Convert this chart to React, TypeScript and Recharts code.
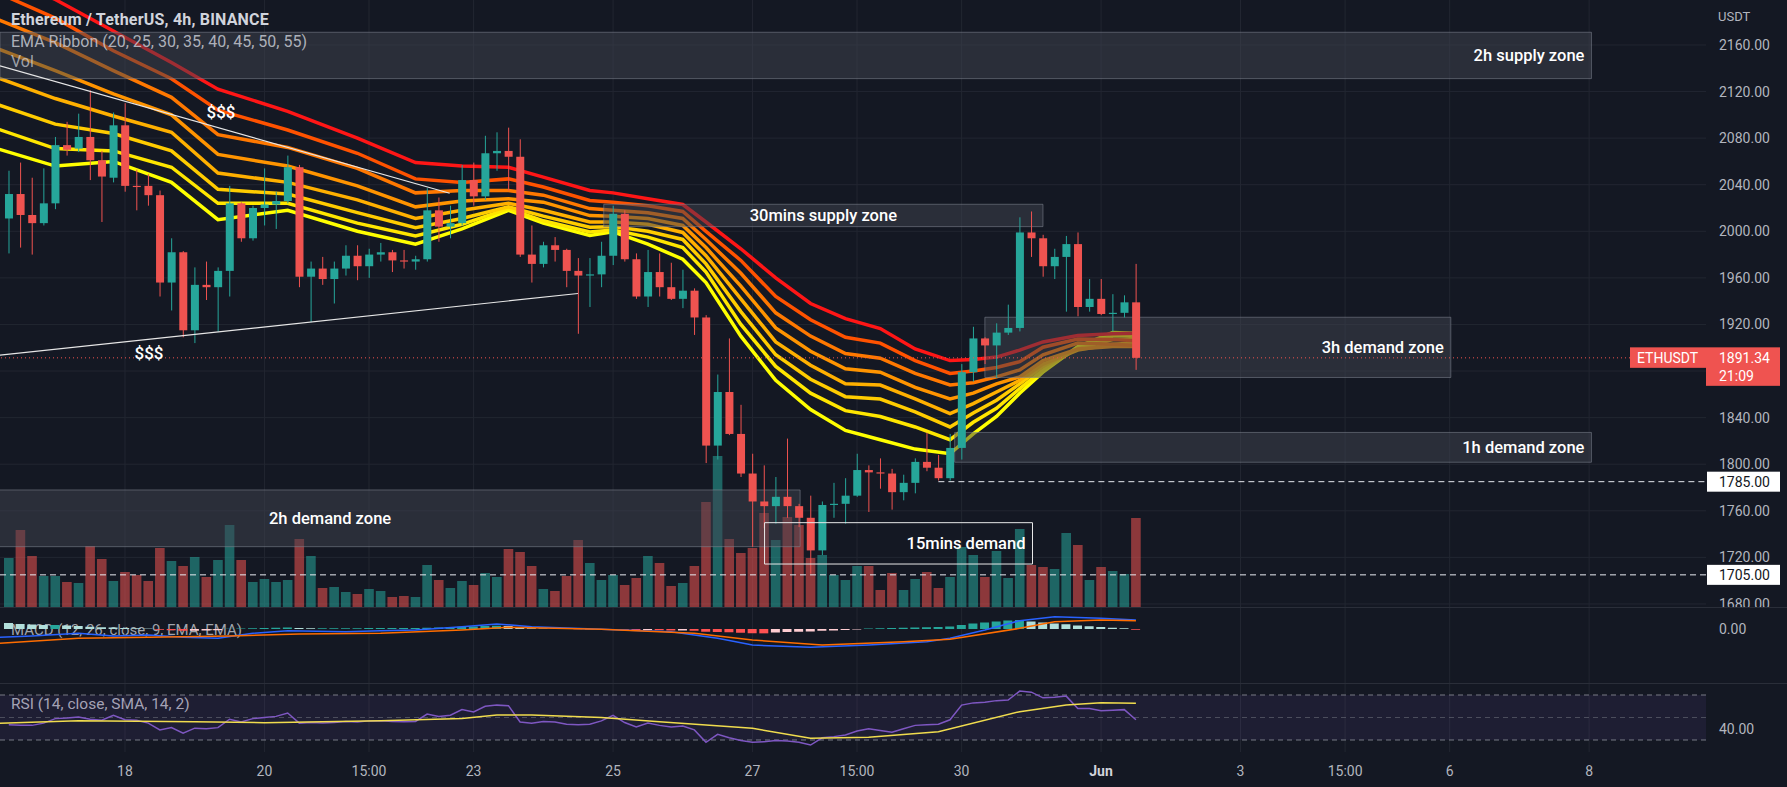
import React from 'react';
import {
  ComposedChart, Bar, Line, XAxis, YAxis, CartesianGrid,
  ReferenceLine, ReferenceArea, ReferenceDot, Cell,
} from 'recharts';

// ETHUSDT 4h, Binance. Candle index 0 = May 18 03:00, one step = 4h.
const FIRST_CANDLE = -10;

const OPEN = [
  2011, 2032, 2014, 2007, 2024, 2074, 2071, 2081, 2061, 2046,
  2091, 2039, 2039, 2031, 1956, 1982, 1915, 1954, 1952, 1966,
  2024, 1994, 2020, 2023, 2026, 2055, 1961, 1968, 1959, 1968,
  1979, 1970, 1980, 1982, 1975, 1974, 1976, 2018, 2004, 2007,
  2044, 2030, 2067, 2069, 2064, 1980, 1972, 1988, 1984, 1966,
  1962, 1963, 1979, 2015, 1976, 1944, 1965, 1952, 1942, 1949,
  1926, 1816, 1862, 1826, 1792, 1768, 1764, 1772, 1764, 1754,
  1726, 1765, 1766, 1773, 1795, 1793, 1792, 1776, 1784, 1802,
  1797, 1788, 1814, 1879, 1908, 1902, 1913, 1917, 1999, 1994,
  1970, 1978, 1989, 1935, 1942, 1929, 1930, 1939,
];
const HIGH = [
  2052, 2059, 2046, 2054, 2081, 2094, 2101, 2121, 2069, 2102,
  2110, 2053, 2049, 2035, 1994, 1983, 1969, 1974, 1969, 2039,
  2025, 2022, 2054, 2034, 2065, 2057, 1974, 1978, 1974, 1988,
  1988, 1985, 1990, 1984, 1984, 1979, 2037, 2029, 2022, 2057,
  2059, 2082, 2085, 2089, 2079, 2005, 1991, 1995, 1985, 1977,
  1977, 1991, 2022, 2018, 1981, 1984, 1981, 1973, 1967, 1951,
  1928, 1877, 1908, 1851, 1809, 1799, 1789, 1822, 1766, 1773,
  1768, 1784, 1788, 1809, 1799, 1805, 1796, 1791, 1805, 1827,
  1808, 1826, 1886, 1918, 1909, 1921, 1937, 2012, 2017, 1997,
  1985, 1996, 1999, 1959, 1959, 1946, 1945, 1972,
];
const LOW = [
  1981, 1986, 1980, 2005, 2019, 2065, 2068, 2044, 2008, 2042,
  2034, 2018, 2022, 1944, 1932, 1909, 1904, 1941, 1914, 1944,
  1991, 1992, 2005, 2002, 2024, 1952, 1922, 1954, 1938, 1962,
  1958, 1960, 1974, 1965, 1968, 1967, 1974, 1991, 1994, 2005,
  2022, 2027, 2052, 2035, 1978, 1956, 1969, 1974, 1952, 1912,
  1935, 1952, 1971, 1974, 1942, 1935, 1944, 1941, 1934, 1911,
  1801, 1804, 1825, 1789, 1729, 1745, 1749, 1754, 1746, 1706,
  1722, 1754, 1749, 1772, 1759, 1779, 1761, 1769, 1775, 1794,
  1786, 1786, 1804, 1871, 1886, 1874, 1911, 1914, 1978, 1961,
  1959, 1931, 1927, 1931, 1928, 1914, 1926, 1881,
];
const CLOSE = [
  2032, 2014, 2007, 2024, 2074, 2070, 2081, 2061, 2047, 2091,
  2039, 2038, 2031, 1956, 1982, 1915, 1954, 1952, 1966, 2024,
  1994, 2020, 2023, 2026, 2055, 1961, 1968, 1959, 1968, 1979,
  1970, 1980, 1982, 1975, 1974, 1976, 2018, 2004, 2007, 2044,
  2030, 2067, 2069, 2064, 1980, 1972, 1988, 1984, 1966, 1962,
  1963, 1979, 2015, 1976, 1944, 1965, 1952, 1942, 1949, 1926,
  1816, 1862, 1826, 1792, 1768, 1764, 1772, 1764, 1754, 1726,
  1765, 1766, 1773, 1795, 1793, 1792, 1776, 1784, 1802, 1797,
  1788, 1814, 1879, 1908, 1902, 1913, 1917, 1999, 1994, 1970,
  1978, 1989, 1935, 1942, 1929, 1930, 1939, 1891.34,
];
// volume, thousands of ETH (approx.)
const VOLUME = [
  49, 77, 51, 31, 31, 25, 24, 61, 48, 26,
  35, 32, 26, 59, 46, 41, 50, 30, 47, 82,
  47, 25, 28, 25, 27, 68, 51, 19, 20, 15,
  13, 18, 16, 10, 11, 10, 42, 27, 19, 26,
  22, 34, 30, 58, 55, 41, 18, 16, 31, 67,
  44, 27, 32, 22, 29, 51, 44, 21, 24, 41,
  105, 151, 68, 54, 59, 94, 67, 90, 82, 49,
  52, 32, 27, 41, 41, 17, 34, 17, 28, 35,
  19, 30, 60, 52, 30, 56, 29, 78, 42, 40,
  38, 74, 62, 27, 40, 36, 33, 89,
];
const RSI = [
  43.5, 43, 43, 45, 49, 49.5, 50.5, 48.5, 47.5, 52,
  48, 47.5, 45, 39, 41, 36, 40.5, 40, 41, 48.5,
  46, 49, 50, 51, 54, 45, 45.5, 45, 45.5, 46.5,
  46, 47, 47, 46.5, 46.3, 46.5, 53, 51, 52, 57,
  55, 60, 61, 60.5, 46, 45, 46.5, 46, 44, 43.5,
  44, 47, 52, 45.5, 41.5, 45, 43, 41.5, 42.5, 39,
  28, 35, 32, 29.5, 28, 28.5, 29.5, 29, 28, 25.5,
  32, 33, 34.5, 38, 40, 38.5, 37, 40, 43, 43.5,
  44, 48, 61, 63, 63.5, 65, 65.5, 73.5, 72.5, 67.5,
  68, 69, 58, 58, 56, 56.5, 57, 48,
];
const MACD_HIST = [
  12, 10, 9, 8, 8, 7, 6, 4.5, 3.5, 3,
  2, 1.5, 0.8, -1.5, -2.5, -3.5, -3.5, -3, -2.5, 0.5,
  1, 1.5, 2, 2.5, 3, 2, 1.5, 1.5, 1.5, 1.5,
  1.5, 2, 2, 2, 2, 2, 2.5, 3, 3.5, 4.5,
  5, 6, 6.5, 6, 3, 1.5, 1, 0.5, 0.3, -0.5,
  -1, -1.5, -1, -1.5, -2, -2, -2.5, -3, -3, -3.5,
  -5.5, -6, -6.5, -7.5, -8.5, -8.7, -7, -6, -5.5, -5,
  -3.5, -3, -2, -1, 1, 1.5, 2, 2.5, 3, 3.5,
  4, 5, 8, 11, 13, 15, 17, 18, 15, 13,
  11, 9.5, 7, 5.5, 4, 2.5, 1.5, -1.5,
];

// EMA ribbon (20..55), read at these candle indices
const RIBBON_AT = [-11, -6, -1, 4, 8, 14, 20, 25, 29, 33, 36, 40, 42, 45, 48, 50, 53, 56, 59, 62, 65, 68, 71, 73, 75, 77, 79, 82, 85, 87];
const EMA20 = [2071, 2056, 2060, 2042, 2010, 2018, 2000, 1989, 2002, 2018, 2007, 1996.5, 1999.5, 1989, 1976, 1956, 1910, 1872, 1847, 1829, 1821, 1813, 1809, 1826, 1841, 1861, 1879, 1901, 1913, 1912.5];
const EMA25 = [2088, 2071, 2069, 2055, 2024, 2024, 2007, 1996, 2006, 2019.5, 2009, 1999.5, 2001, 1995, 1986, 1965, 1920, 1884, 1861, 1846, 1841, 1832, 1821, 1836, 1848, 1865, 1881, 1900, 1910, 1911];
const EMA30 = [2109, 2092, 2084, 2069, 2036, 2032, 2016, 2003, 2011, 2021, 2013, 2003.5, 2004, 2000, 1993, 1972, 1931, 1894, 1873, 1858, 1856, 1845, 1832, 1844, 1855, 1869, 1884, 1899, 1907, 1908];
const EMA35 = [2132, 2114, 2099, 2085, 2050, 2042, 2027, 2011, 2018, 2024, 2018, 2008, 2008, 2006, 1999, 1979, 1942, 1905, 1885, 1869, 1868, 1856, 1843.5, 1852, 1862, 1872, 1886, 1898, 1903, 1904];
const EMA40 = [2157, 2138, 2118, 2100, 2066, 2056, 2039, 2021, 2026, 2028, 2025, 2013.5, 2013, 2011, 2005, 1986, 1953, 1917, 1897, 1882, 1879, 1866, 1856, 1861, 1869, 1875, 1889, 1899, 1901, 1901];
const EMA45 = [2182, 2162, 2138, 2115, 2083, 2072, 2054, 2033, 2035, 2035, 2031, 2019.5, 2018, 2016, 2011, 1993, 1964, 1930, 1910, 1895, 1891, 1878, 1868, 1870, 1875, 1881, 1894, 1904, 1903, 1902];
const EMA50 = [2205, 2183, 2155, 2131, 2104, 2087, 2067, 2045, 2042, 2045, 2038, 2026.5, 2025, 2022, 2017, 2000, 1975, 1944, 1924, 1909, 1904, 1889, 1878, 1880, 1883, 1888, 1900.5, 1907.5, 1907, 1906];
const EMA55 = [2222, 2199, 2172, 2145, 2122, 2103, 2080, 2059, 2056, 2055, 2046.5, 2035, 2033, 2028, 2023, 2008, 1985, 1960, 1938, 1925, 1916.5, 1899, 1889, 1890, 1892, 1898, 1905, 1910.5, 1912, 1912.5];
const RIBBON = [EMA20, EMA25, EMA30, EMA35, EMA40, EMA45, EMA50, EMA55];
const RIBBON_KEYS = ['ema20', 'ema25', 'ema30', 'ema35', 'ema40', 'ema45', 'ema50', 'ema55'];
const RIBBON_COLORS = ['#ffff00', '#ffe600', '#ffcc00', '#ffb000', '#ff9400', '#ff7800', '#ff5200', '#ff1616'];

const MACD_AT = [-11, -8, -4, -1, 2, 5, 8, 11, 14, 19, 22, 25, 29, 32, 35, 41, 47, 51, 54, 59, 64, 69, 71, 74, 77, 80, 84, 87];
const MACD_LINE = [-16.7, -14, -8.7, -14, -12, -16.7, -18.7, -8.7, -3.3, -5.3, -3.3, -2, 4.7, 10, 4.7, -0.7, -5.3, -18.7, -32, -36.7, -32, -25.3, -18.7, -2, 16.7, 24.7, 21.3, 18];
const SIGNAL_AT = [-11, -4, 2, 9, 15, 22, 29, 33, 41, 49, 54, 60, 67, 71, 77, 80, 84, 87];
const SIGNAL_LINE = [-28.7, -18.7, -16.7, -14, -10, -8.7, -2, 3.3, -0.7, -8.7, -22, -32, -25.3, -20.7, 1.3, 14.7, 18, 16.7];
const RSI_MA_AT = [-11, -4, 6, 12, 22, 29, 32, 35, 41, 46, 54, 59, 64, 70, 77, 81, 84, 87];
const RSI_MA = [44.8, 47.2, 46.3, 45.4, 47.2, 49.2, 52.2, 52.2, 50.1, 46.3, 40.4, 31.5, 32.4, 37.4, 55.2, 61.1, 63.2, 62.6];

const TIME_TICKS = [0, 12, 21, 30, 42, 54, 63, 72, 84, 96, 105, 114, 126];
const TIME_LABELS = ['18', '20', '15:00', '23', '25', '27', '15:00', '30', 'Jun', '3', '15:00', '6', '8'];
const PRICE_TICKS = [1680, 1720, 1760, 1800, 1840, 1920, 1960, 2000, 2040, 2080, 2120, 2160];
const PRICE_GRID = [1680, 1720, 1760, 1800, 1840, 1880, 1920, 1960, 2000, 2040, 2080, 2120, 2160];

const LAST_PRICE = 1891.34;
const LAST_TIME = '21:09';

// drawings on the chart (candle index / price)
const ZONES = [
  { text: '2h supply zone', x1: -10.76, x2: 126.2, y1: 2131.1, y2: 2170.9, align: 'right' },
  { text: '30mins supply zone', x1: 41.2, x2: 79.0, y1: 2004, y2: 2023.2, align: 'center' },
  { text: '3h demand zone', x1: 74.0, x2: 114.1, y1: 1874.5, y2: 1926.2, align: 'right' },
  { text: '1h demand zone', x1: 71.4, x2: 126.2, y1: 1801.7, y2: 1827.3, align: 'right' },
  { text: '2h demand zone', x1: -22.8, x2: 58.1, y1: 1729.2, y2: 1777.9, align: 'center' },
];
const DEMAND_15M = { text: '15mins demand', x1: 55.04, x2: 78.1, y1: 1714.3, y2: 1749.8 };
const TRENDLINES = [
  [{ x: -10.76, y: 2142 }, { x: 27.94, y: 2032.7 }],
  [{ x: -10.76, y: 1893.6 }, { x: 38.98, y: 1946.6 }],
];
const MONEY_MARKS = [{ x: 8.26, y: 2102.7 }, { x: 2.07, y: 1895.5 }];
const LEVEL_1785 = { from: 70, price: 1785 };
const LEVEL_1705 = 1705;

// ---- build table ----
const pick = (at: number[], vals: number[], i: number) => {
  const s = at.indexOf(i);
  return s >= 0 ? vals[s] : null;
};
const rows: any[] = [];
for (let i = -11; i <= 87; i++) {
  const k = i - FIRST_CANDLE;
  const has = k >= 0 && k < OPEN.length;
  const row: any = {
    i,
    o: has ? OPEN[k] : null,
    h: has ? HIGH[k] : null,
    l: has ? LOW[k] : null,
    c: has ? CLOSE[k] : null,
    vol: has ? VOLUME[k] : null,
    rsi: has ? RSI[k] : null,
    hist: has ? MACD_HIST[k] : null,
    macd: pick(MACD_AT, MACD_LINE, i),
    signal: pick(SIGNAL_AT, SIGNAL_LINE, i),
    rsiMa: pick(RSI_MA_AT, RSI_MA, i),
  };
  RIBBON_KEYS.forEach((key, n) => { row[key] = pick(RIBBON_AT, RIBBON[n], i); });
  rows.push(row);
}

// ---- styles ----
const W = 1787;
const AXIS_W = 81;
const X_DOMAIN = [-10.757, 136.06];
const P_DOMAIN = [1677.4, 2198.6];
const BG = '#141823';
const GRID = '#222631';
const UP = '#26a69a';
const DOWN = '#ef5350';
const TEXT = '#b2b5be';
const FONT = 'Roboto, "Noto Sans", sans-serif';
const ZONE_FILL = 'rgba(64,67,79,0.5)';
const ZONE_STROKE = 'rgba(130,134,146,0.55)';
const tickStyle = { fill: TEXT, fontSize: 14, fontFamily: FONT };

const Candle = (p: any) => {
  const { x, y, width, height, payload } = p;
  if (!payload || payload.o == null) return null;
  const { o, h, l, c } = payload;
  const color = c >= o ? UP : DOWN;
  const hh = Math.abs(height);
  const top = Math.min(y, y + height);
  const ratio = hh / (h - l || 1);
  const yOf = (v: number) => top + (h - v) * ratio;
  const bodyTop = yOf(Math.max(o, c));
  const bodyH = Math.max(1, Math.abs(yOf(o) - yOf(c)));
  const cx = x + width / 2;
  return (
    <g>
      <line x1={cx} x2={cx} y1={top} y2={top + hh} stroke={color} strokeWidth={1} />
      <rect x={x} y={bodyTop} width={width} height={bodyH} fill={color} />
    </g>
  );
};

const VolumeBar = (p: any) => {
  const { x, y, width, height, payload } = p;
  if (!payload || payload.vol == null) return null;
  const up = payload.c >= payload.o;
  return <rect x={x} y={Math.min(y, y + height)} width={width} height={Math.abs(height)}
    fill={up ? 'rgba(38,166,154,0.55)' : 'rgba(239,83,80,0.55)'} />;
};

const zoneLabel = (text: string, align: string) => (p: any) => {
  const vb = p.viewBox || {};
  const tx = align === 'right' ? vb.x + vb.width - 7 : vb.x + vb.width / 2;
  return (
    <text x={tx} y={vb.y + vb.height / 2} dy={6} textAnchor={align === 'right' ? 'end' : 'middle'}
      fill="#ffffff" fontSize={16.5} fontWeight={500} fontFamily={FONT}>{text}</text>
  );
};

const axisTag = (text: string) => (p: any) => {
  const vb = p.viewBox || {};
  const right = vb.x + vb.width;
  return (
    <g>
      <rect x={right + 1} y={vb.y - 10} width={73} height={20} fill="#ffffff" />
      <text x={right + 13} y={vb.y} dy={5} fill="#131722" fontSize={14} fontFamily={FONT}>{text}</text>
    </g>
  );
};

const PriceTag = (p: any) => {
  const vb = p.viewBox || {};
  const right = vb.x + vb.width;
  const y = vb.y;
  return (
    <g>
      <rect x={right - 76} y={y - 10.5} width={76} height={20.5} fill={DOWN} />
      <text x={right - 69} y={y} dy={5} fill="#ffffff" fontSize={14} fontFamily={FONT}>ETHUSDT</text>
      <rect x={right} y={y - 10.5} width={74} height={38.5} fill={DOWN} />
      <text x={right + 13} y={y} dy={5} fill="#ffffff" fontSize={14} fontFamily={FONT}>{LAST_PRICE.toFixed(2)}</text>
      <text x={right + 13} y={y + 18} dy={5} fill="#ffffff" fontSize={14} fontFamily={FONT}>{LAST_TIME}</text>
    </g>
  );
};

const moneyLabel = (p: any) => {
  const vb = p.viewBox || {};
  return (
    <text x={vb.x + (vb.width || 0) / 2} y={vb.y + (vb.height || 0) / 2} dy={6} textAnchor="middle"
      fill="#ffffff" fontSize={17} fontWeight={500} fontFamily={FONT}>$$$</text>
  );
};

const TimeTick = (p: any) => {
  const { x, y, payload } = p;
  const label = TIME_LABELS[TIME_TICKS.indexOf(payload.value)];
  const bold = label === 'Jun';
  return (
    <text x={x} y={y + 22} textAnchor="middle" fill={bold ? '#d1d4dc' : TEXT}
      fontSize={14} fontWeight={bold ? 700 : 400} fontFamily={FONT}>{label}</text>
  );
};

const histColor = (k: number) => {
  const v = MACD_HIST[k];
  const prev = k > 0 ? MACD_HIST[k - 1] : v + 1;
  if (v >= 0) return v >= prev ? '#26a69a' : '#b2dfdb';
  return v < prev ? '#ff5252' : '#ffcdd2';
};

const candleRange = (r: any) => (r.l == null ? null : [r.l, r.h]);
const noMargin = { top: 0, right: 0, bottom: 0, left: 0 };

function PricePane() {
  return (
    <ComposedChart width={W} height={607} data={rows} margin={noMargin}>
      <CartesianGrid stroke={GRID} horizontalValues={PRICE_GRID} verticalValues={TIME_TICKS} />
      <XAxis dataKey="i" type="number" domain={X_DOMAIN} allowDataOverflow hide />
      <XAxis xAxisId="vx" dataKey="i" type="number" domain={X_DOMAIN} allowDataOverflow hide />
      <YAxis orientation="right" width={AXIS_W} domain={P_DOMAIN} allowDataOverflow ticks={PRICE_TICKS}
        interval={0} tick={tickStyle} tickFormatter={(v: number) => v.toFixed(2)}
        axisLine={false} tickLine={false} tickSize={0} tickMargin={13} />
      <YAxis yAxisId="vol" hide domain={[0, 607]} />

      <Bar xAxisId="vx" yAxisId="vol" dataKey="vol" barSize={9.6} shape={VolumeBar}
        isAnimationActive={false} zIndex={100} />
      <ReferenceLine y={LEVEL_1705} stroke="#e8eaf0" strokeDasharray="6 4" strokeWidth={1}
        label={axisTag(LEVEL_1705.toFixed(2))} zIndex={150} />

      {RIBBON_KEYS.map((key, n) => (
        <Line key={key} dataKey={key} type="linear" stroke={RIBBON_COLORS[n]} strokeWidth={3.5}
          dot={false} activeDot={false} connectNulls isAnimationActive={false} zIndex={200} />
      ))}

      {ZONES.map((z) => (
        <ReferenceArea key={z.text} x1={z.x1} x2={z.x2} y1={z.y1} y2={z.y2} ifOverflow="hidden"
          fill={ZONE_FILL} fillOpacity={1} stroke={ZONE_STROKE} strokeWidth={1}
          label={zoneLabel(z.text, z.align)} zIndex={300} />
      ))}

      <Bar dataKey={candleRange} barSize={8} shape={Candle} isAnimationActive={false} zIndex={400} />

      <ReferenceArea x1={DEMAND_15M.x1} x2={DEMAND_15M.x2} y1={DEMAND_15M.y1} y2={DEMAND_15M.y2}
        fill="none" stroke="#e8e8e8" strokeWidth={1} ifOverflow="visible"
        label={zoneLabel(DEMAND_15M.text, 'right')} zIndex={450} />

      {TRENDLINES.map((seg, n) => (
        <ReferenceLine key={n} segment={seg} stroke="#e6e6e6" strokeWidth={1.2} ifOverflow="visible" zIndex={500} />
      ))}
      <ReferenceLine segment={[{ x: LEVEL_1785.from, y: LEVEL_1785.price }, { x: X_DOMAIN[1], y: LEVEL_1785.price }]}
        stroke="#e8eaf0" strokeDasharray="6 4" strokeWidth={1} ifOverflow="visible"
        label={axisTag(LEVEL_1785.price.toFixed(2))} zIndex={500} />
      <ReferenceLine y={LAST_PRICE} stroke={DOWN} strokeDasharray="1 3" strokeWidth={1}
        label={PriceTag} zIndex={500} />
      {MONEY_MARKS.map((m, n) => (
        <ReferenceDot key={n} x={m.x} y={m.y} r={0} fill="none" stroke="none" label={moneyLabel} zIndex={600} />
      ))}
    </ComposedChart>
  );
}

function MacdPane() {
  return (
    <ComposedChart width={W} height={76} data={rows} margin={noMargin}>
      <CartesianGrid stroke={GRID} horizontal={false} verticalValues={TIME_TICKS} />
      <XAxis dataKey="i" type="number" domain={X_DOMAIN} allowDataOverflow hide />
      <YAxis orientation="right" width={AXIS_W} domain={[-108, 44]} allowDataOverflow ticks={[0]}
        interval={0} tick={tickStyle} tickFormatter={(v: number) => v.toFixed(2)}
        axisLine={false} tickLine={false} tickSize={0} tickMargin={13} />
      <Bar dataKey="hist" barSize={9} isAnimationActive={false}>
        {rows.map((r, n) => (
          <Cell key={n} fill={r.hist == null ? 'none' : histColor(r.i - FIRST_CANDLE)} />
        ))}
      </Bar>
      <Line dataKey="macd" stroke="#2962ff" strokeWidth={1.5} dot={false} activeDot={false}
        connectNulls isAnimationActive={false} />
      <Line dataKey="signal" stroke="#ff6d00" strokeWidth={1.5} dot={false} activeDot={false}
        connectNulls isAnimationActive={false} />
    </ComposedChart>
  );
}

function RsiPane() {
  return (
    <ComposedChart width={W} height={104} data={rows} margin={noMargin}>
      <CartesianGrid stroke={GRID} horizontal={false} verticalValues={TIME_TICKS} />
      <XAxis dataKey="i" type="number" domain={X_DOMAIN} allowDataOverflow ticks={TIME_TICKS}
        interval={0} height={35} axisLine={false} tickLine={false} tickSize={0} tick={<TimeTick />} />
      <YAxis orientation="right" width={AXIS_W} domain={[19.33, 80.67]} allowDataOverflow ticks={[40]}
        interval={0} tick={tickStyle} tickFormatter={(v: number) => v.toFixed(2)}
        axisLine={false} tickLine={false} tickSize={0} tickMargin={13} />
      <ReferenceArea y1={30} y2={70} fill="#7e57c2" fillOpacity={0.1} stroke="none" ifOverflow="visible" />
      <ReferenceLine y={70} stroke="#787b86" strokeDasharray="5 4" />
      <ReferenceLine y={50} stroke="#787b86" strokeOpacity={0.5} strokeDasharray="5 4" />
      <ReferenceLine y={30} stroke="#787b86" strokeDasharray="5 4" />
      <Line dataKey="rsi" stroke="#7e57c2" strokeWidth={1.5} dot={false} activeDot={false}
        connectNulls isAnimationActive={false} />
      <Line dataKey="rsiMa" stroke="#f0dc4e" strokeWidth={1.5} dot={false} activeDot={false}
        connectNulls isAnimationActive={false} />
    </ComposedChart>
  );
}

const legend = (top: number, size: number, color: string, weight = 400): React.CSSProperties => ({
  position: 'absolute', left: 11, top, fontSize: size, lineHeight: '18px', color,
  fontWeight: weight, fontFamily: FONT, whiteSpace: 'nowrap',
});

export default function App() {
  return (
    <div style={{ position: 'fixed', left: 0, top: 0, width: W, height: 787, background: BG, overflow: 'hidden' }}>
      <div style={legend(621, 15, 'rgba(209,212,220,0.75)')}>MACD (12, 26, close, 9, EMA, EMA)</div>
      <div style={legend(695, 15.5, 'rgba(209,212,220,0.8)')}>RSI (14, close, SMA, 14, 2)</div>

      <div style={{ position: 'absolute', left: 0, top: 0 }}><PricePane /></div>
      <div style={{ position: 'absolute', left: 0, top: 607 }}><MacdPane /></div>
      <div style={{ position: 'absolute', left: 0, top: 683 }}><RsiPane /></div>

      <div style={{ position: 'absolute', left: 0, top: 607, width: W, height: 1, background: '#2a2e39' }} />
      <div style={{ position: 'absolute', left: 0, top: 683, width: W, height: 1, background: '#2a2e39' }} />

      <div style={{ ...legend(11, 16, '#d1d4dc', 700), letterSpacing: 0.2 }}>Ethereum / TetherUS, 4h, BINANCE</div>
      <div style={legend(33, 16, 'rgba(209,212,220,0.8)')}>EMA Ribbon (20, 25, 30, 35, 40, 45, 50, 55)</div>
      <div style={legend(53, 16, 'rgba(209,212,220,0.7)')}>Vol</div>
      <div style={{ position: 'absolute', left: 1718, top: 8, fontSize: 13, lineHeight: '18px', color: TEXT, fontFamily: FONT }}>USDT</div>
    </div>
  );
}
